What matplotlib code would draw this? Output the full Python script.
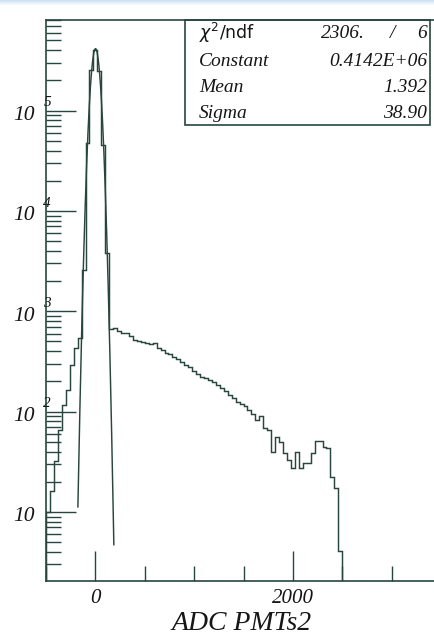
import numpy as np
import matplotlib
matplotlib.use("Agg")
import matplotlib.pyplot as plt
from matplotlib.patches import Rectangle
from matplotlib.ticker import FixedLocator, NullFormatter

# ---- histogram: ADC PMTs2, 40-count bins from -500 to 2500 ----
bin_lo = -500
bin_width = 40
counts = [
    10, 16, 32, 66, 117, 164, 292, 431, 542, 2583,
    47640, 254000, 399000, 248000, 45000, 3820,
    667, 682, 637, 608, 601, 568, 518, 501, 495, 484,
    473, 484, 431, 412, 384, 376, 351, 335, 313, 292,
    279, 254, 237, 221, 216, 207, 198, 185, 172, 161,
    147, 137, 125, 119, 114, 104, 95, 83, 91, 69,
    66, 40, 56, 50, 39, 33, 27.5, 40, 27.5, 31,
    31, 39, 51, 51, 44.5, 43.5, 22.3, 17.3, 4.1,
]

# ---- gaussian fit results ----
fit_chi2 = "2306."
fit_ndf = "6"
fit_constant = 0.4142e6
fit_mean = 1.392
fit_sigma = 38.90
fit_range = (-177, 187)

x_ticks_major = [0, 2000]
x_ticks_minor = [-500, 500, 1000, 1500, 2500, 3000, 3500]
y_decades = [1, 2, 3, 4, 5]

LINE = "#27463f"
INK = "#161616"
SERIF = "Liberation Serif"

W, H = 434, 636
fig = plt.figure(figsize=(W / 100, H / 100), dpi=100)
fig.patch.set_facecolor("white")


def px_box(x0, y0, x1, y1):
    """pixel box (top-left origin) -> figure fraction rect"""
    return [x0 / W, 1 - y1 / H, (x1 - x0) / W, (y1 - y0) / H]


# thin pale-blue strip along the top edge of the page
band = np.linspace(1, 0, 6).reshape(-1, 1)
band_ax = fig.add_axes(px_box(0, 0, W, 6))
band_ax.imshow(band, aspect="auto", cmap=matplotlib.colors.LinearSegmentedColormap.from_list(
    "edge", ["#ffffff", "#cfe2f6"]), vmin=0, vmax=1)
band_ax.set_axis_off()

ax = fig.add_axes(px_box(46, 20, 441, 581))
ax.set_xlim(-500, 3500)
ax.set_yscale("log")
ax.set_ylim(2.05, 8.0e5)

edges = bin_lo + bin_width * np.arange(len(counts) + 1)
ax.stairs(counts, edges, baseline=1.0, color=LINE, lw=1.05)

gx = np.linspace(fit_range[0], fit_range[1], 400)
gy = fit_constant * np.exp(-0.5 * ((gx - fit_mean) / fit_sigma) ** 2)
ax.plot(gx, gy, color=LINE, lw=1.05)

for s in ["left", "top", "bottom"]:
    ax.spines[s].set_color(LINE)
    ax.spines[s].set_linewidth(1.2)
ax.spines["right"].set_visible(False)

ax.xaxis.set_major_locator(FixedLocator(x_ticks_major))
ax.xaxis.set_minor_locator(FixedLocator(x_ticks_minor))
ax.set_xticklabels([str(v) for v in x_ticks_major], fontfamily=SERIF,
                   fontstyle="italic", fontsize=15, color=INK)
ax.yaxis.set_major_locator(FixedLocator([10.0 ** d for d in y_decades]))
minor_y = [m * 10.0 ** d for d in range(0, 6) for m in range(2, 10)]
ax.yaxis.set_minor_locator(FixedLocator(minor_y))
ax.yaxis.set_major_formatter(NullFormatter())
ax.yaxis.set_minor_formatter(NullFormatter())
ax.tick_params(which="major", direction="in", length=21.6, width=1.0,
               color=LINE, top=False, right=False)
ax.tick_params(which="minor", direction="in", length=10.8, width=1.0,
               color=LINE, top=False, right=False)
ax.tick_params(axis="x", which="major", pad=6)

# y labels drawn as "10" with a raised exponent
ytr = ax.get_yaxis_transform()
for d in y_decades:
    ax.annotate("10", xy=(0, 10.0 ** d), xycoords=ytr, xytext=(-8, -3.5),
                textcoords="offset points", ha="right", va="center",
                fontfamily=SERIF, fontstyle="italic", fontsize=15.5, color=INK)
    if d > 1:
        ax.annotate(str(d), xy=(0, 10.0 ** d), xycoords=ytr, xytext=(0.8, 5.5),
                    textcoords="offset points", ha="center", va="center",
                    fontfamily=SERIF, fontstyle="italic", fontsize=11, color=INK)

fig.text(242 / W, 1 - 629.5 / H, "ADC PMTs2", ha="center", va="baseline",
         fontfamily=SERIF, fontstyle="italic", fontsize=20, color=INK)

# fit statistics box
bx = px_box(185, 20, 430, 125)
fig.patches.append(Rectangle(bx[:2], bx[2], bx[3], transform=fig.transFigure,
                             fill=False, edgecolor=LINE, lw=1.2))

rows_y = [33, 61, 87, 113]
lab_x = 199 / W
val_x = 427 / W
kw = dict(fontfamily=SERIF, fontstyle="italic", fontsize=14, color=INK, va="center")
fig.text(lab_x, 1 - rows_y[0] / H, r"$\chi^{2}$/ndf", ha="left", va="center",
         fontfamily="DejaVu Sans", fontsize=12.5, color=INK)
fig.text(365 / W, 1 - rows_y[0] / H, fit_chi2, ha="right", **kw)
fig.text(393 / W, 1 - rows_y[0] / H, "/", ha="center", **kw)
fig.text(val_x, 1 - rows_y[0] / H, fit_ndf, ha="right", **kw)
stat_rows = [("Constant", "0.4142E+06"), ("Mean", f"{fit_mean:.3f}"),
             ("Sigma", f"{fit_sigma:.2f}")]
for (lab, val), yy in zip(stat_rows, rows_y[1:]):
    fig.text(lab_x, 1 - yy / H, lab, ha="left", **kw)
    fig.text(val_x, 1 - yy / H, val, ha="right", **kw)

fig.savefig("out.png", dpi=100)
